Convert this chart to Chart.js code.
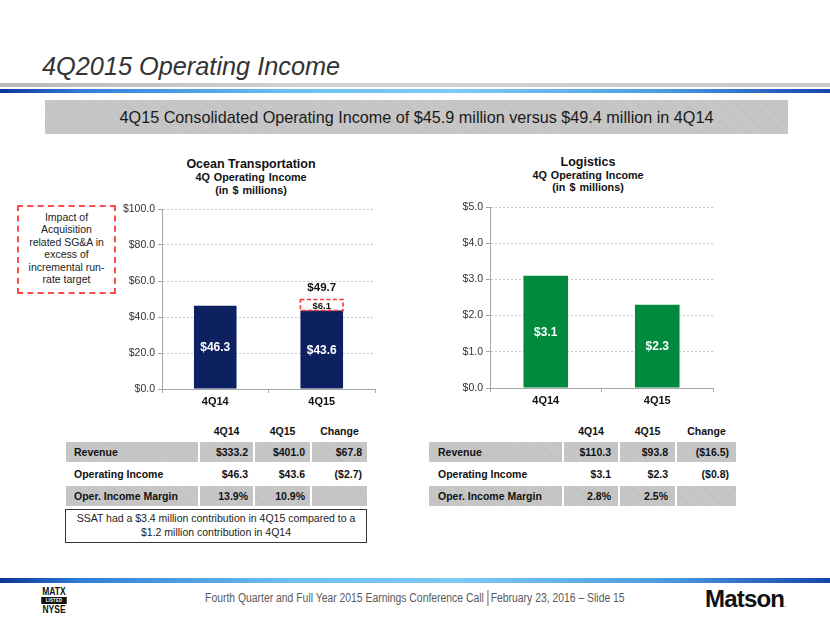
<!DOCTYPE html>
<html>
<head>
<meta charset="utf-8">
<script src="https://cdn.jsdelivr.net/npm/chart.js@4.4.0/dist/chart.umd.min.js"></script>
<style>
  body { margin: 0; background: #fff; font-family: "Liberation Sans", Arial, sans-serif; color: #111; }
  #page { position: relative; width: 830px; height: 623px; overflow: hidden; }
  .abs { position: absolute; }
  #title { left: 42px; top: 52px; font-size: 25.3px; font-style: italic; color: #333; white-space: nowrap; }
  .grayline { left: 0; top: 83px; width: 830px; height: 4px; background: linear-gradient(to right, #b8b8b8, #d4d4d4 40%, #c8c8c8); }
  .blueline { left: 0; width: 830px; height: 4px;
    background: linear-gradient(to right, #0b3596 0%, #2f7fd8 10%, #6cc0f2 35%, #7ccaf5 55%, #4a9be2 80%, #1546ac 100%); }
  .hatch { background: repeating-linear-gradient(45deg, #c9c9c9 0 1px, #c1c1c1 1px 2px); }
  #banner { left: 45px; top: 100px; width: 743px; height: 34px; line-height: 34px; text-align: center; font-size: 16.2px; color: #1a1a1a; }
  .ctitle { text-align: center; font-weight: bold; white-space: nowrap; color: #111; }
  .ctitle .t1 { font-size: 12.5px; height: 14px; line-height: 14px; }
  .ctitle .t2 { font-size: 10.8px; line-height: 13.4px; word-spacing: 1px; }
  #note { left: 17px; top: 205px; width: 95px; height: 81px; border: 2px dashed #ff4a4a; text-align: center;
    font-size: 10.5px; line-height: 12.4px; color: #222; padding-top: 4px; }
  canvas { position: absolute; }
  .cell { position: absolute; font-size: 10.5px; font-weight: bold; line-height: 20px; height: 20px; box-sizing: border-box; white-space: nowrap; color: #111; }
  #ssat { left: 65px; top: 509px; width: 300px; height: 31px; border: 1px solid #333; text-align: center; font-size: 10.5px; line-height: 14px; color: #222; padding-top: 1px; }
  #foot { left: 0; top: 590px; width: 830px; text-align: center; font-family: "Liberation Sans", Arial, sans-serif;
    font-size: 12px; color: #595959; white-space: nowrap; transform: scaleX(0.865); transform-origin: 414px 0; }
  #foot .bar { display: inline-block; width: 0; height: 16px; border-left: 1px solid #555; vertical-align: -4px; margin: 0 3px 0 4px; }
  #nyse { left: 39px; top: 587px; width: 30px; text-align: center; font-family: "Liberation Sans", Arial, sans-serif; font-weight: bold; color: #111; transform: scaleX(0.85); }
  #nyse .l1 { font-size: 10px; line-height: 9px; }
  #nyse .l2 { background: #111; color: #fff; font-size: 5px; line-height: 7px; margin: 1px 0; letter-spacing: 0.3px; }
  #matson { left: 705px; top: 585px; font-size: 24px; font-weight: bold; letter-spacing: -0.8px; color: #111; font-family: "Liberation Sans", Arial, sans-serif; }
  #matson small { font-size: 5px; letter-spacing: 0; }
</style>
</head>
<body>
<div id="page">
  <div id="title" class="abs">4Q2015 Operating Income</div>
  <div class="abs grayline"></div>
  <div class="abs blueline" style="top:89px"></div>
  <div id="banner" class="abs hatch">4Q15 Consolidated Operating Income of $45.9 million versus $49.4 million in 4Q14</div>

  <div class="abs ctitle" style="left:151px; top:157px; width:200px;">
    <div class="t1">Ocean Transportation</div>
    <div class="t2">4Q Operating Income</div>
    <div class="t2">(in $ millions)</div>
  </div>
  <div class="abs ctitle" style="left:488px; top:155px; width:200px;">
    <div class="t1">Logistics</div>
    <div class="t2" style="line-height:12.4px">4Q Operating Income</div>
    <div class="t2" style="line-height:12.4px">(in $ millions)</div>
  </div>

  <div id="note" class="abs">Impact of<br>Acquisition<br>related SG&amp;A in<br>excess of<br>incremental run-<br>rate target</div>

  <canvas id="chart-ocean" width="290" height="215" style="left:100px; top:195px;"></canvas>
  <canvas id="chart-logistics" width="300" height="216" style="left:430px; top:193px;"></canvas>

  <div id="table-ocean"></div>
  <div id="table-logistics"></div>

  <div id="ssat" class="abs">SSAT had a $3.4 million contribution in 4Q15 compared to a<br>$1.2 million contribution in 4Q14</div>

  <div class="abs blueline" style="top:578px; height:5px"></div>
  <div id="nyse" class="abs"><div class="l1">MATX</div><div class="l2">LISTED</div><div class="l1">NYSE</div></div>
  <div id="foot" class="abs">Fourth Quarter and Full Year 2015 Earnings Conference Call<span class="bar"></span>February 23, 2016 – Slide 15</div>
  <div id="matson" class="abs">Matson<small>.</small></div>
</div>

<script>
const quarters = ["4Q14", "4Q15"];
const oceanIncome = [46.3, 43.6];
const oceanAcqImpact = [null, 6.1];
const logisticsIncome = [3.1, 2.3];

const tableHeader = ["4Q14", "4Q15", "Change"];
const tableRowNames = ["Revenue", "Operating Income", "Oper. Income Margin"];
const oceanTable = [
  ["$333.2", "$401.0", "$67.8"],
  ["$46.3", "$43.6", "($2.7)"],
  ["13.9%", "10.9%", ""],
];
const logisticsTable = [
  ["$110.3", "$93.8", "($16.5)"],
  ["$3.1", "$2.3", "($0.8)"],
  ["2.8%", "2.5%", ""],
];

Chart.defaults.font.family = "'Liberation Sans', Arial, sans-serif";
Chart.defaults.devicePixelRatio = 1;

const money = (v) => "$" + Number(v).toFixed(1);

// value labels inside bars, dashed outline for the impact segment, total on top
const barLabels = {
  id: "barLabels",
  afterDatasetsDraw(chart, args, opts) {
    const ctx = chart.ctx;
    chart.data.datasets.forEach((ds, i) => {
      const meta = chart.getDatasetMeta(i);
      meta.data.forEach((bar, j) => {
        const v = ds.data[j];
        if (v == null) return;
        const top = Math.min(bar.y, bar.base);
        const bot = Math.max(bar.y, bar.base);
        ctx.save();
        if (ds.dashColor) {
          ctx.strokeStyle = ds.dashColor;
          ctx.lineWidth = 1.6;
          ctx.setLineDash([4, 2.5]);
          ctx.strokeRect(bar.x - bar.width / 2, top, bar.width, bot - top);
        }
        ctx.fillStyle = ds.labelColor;
        ctx.font = ds.labelFont;
        ctx.textAlign = "center";
        ctx.textBaseline = "middle";
        ctx.fillText(money(v), bar.x, (top + bot) / 2 + 1);
        ctx.restore();
      });
    });
    if (!opts.totals) return;
    const n = chart.data.datasets.length;
    chart.data.labels.forEach((lbl, j) => {
      const parts = chart.data.datasets.map((d) => d.data[j]).filter((v) => v != null);
      if (parts.length < 2) return;
      const sum = parts.reduce((s, x) => s + x, 0);
      const topBar = chart.getDatasetMeta(n - 1).data[j];
      ctx.save();
      ctx.fillStyle = "#111";
      ctx.font = "bold 11.5px 'Liberation Sans', Arial";
      ctx.textAlign = "center";
      ctx.textBaseline = "middle";
      ctx.fillText(money(sum), topBar.x, topBar.y - 11.5);
      ctx.restore();
    });
  },
};

function chartOpts(max, step, axisWidth, padRight, stacked, totals) {
  return {
    responsive: false,
    animation: false,
    layout: { padding: { top: 14, right: padRight, left: 0, bottom: 0 } },
    scales: {
      x: {
        stacked,
        offset: true,
        grid: { display: true, drawOnChartArea: false, tickLength: 4, color: "#a6a6a6" },
        border: { color: "#a6a6a6" },
        ticks: { color: "#111", font: { size: 11, weight: "bold" }, padding: 2 },
        afterFit: (s) => { s.height = 21; },
      },
      y: {
        stacked,
        min: 0,
        max,
        ticks: { stepSize: step, color: "#333", font: { size: 10.5 }, padding: 3, callback: (v) => money(v) },
        grid: { color: "#c4c4c4", tickColor: "#a6a6a6", tickLength: 4 },
        border: { color: "#a6a6a6", dash: [2, 2] },
        afterFit: (s) => { s.width = axisWidth; },
      },
    },
    plugins: {
      legend: { display: false },
      tooltip: { enabled: false },
      barLabels: { totals },
    },
  };
}

new Chart(document.getElementById("chart-ocean"), {
  type: "bar",
  data: {
    labels: quarters,
    datasets: [
      {
        data: oceanIncome,
        backgroundColor: "#0d2060",
        categoryPercentage: 1,
        barPercentage: 0.4,
        labelColor: "#ffffff",
        labelFont: "bold 12px 'Liberation Sans', Arial",
      },
      {
        data: oceanAcqImpact,
        backgroundColor: "#ffffff",
        categoryPercentage: 1,
        barPercentage: 0.4,
        dashColor: "#ff3030",
        labelColor: "#111",
        labelFont: "bold 9.5px 'Liberation Sans', Arial",
      },
    ],
  },
  options: chartOpts(100, 20, 62, 15, true, true),
  plugins: [barLabels],
});

new Chart(document.getElementById("chart-logistics"), {
  type: "bar",
  data: {
    labels: quarters,
    datasets: [
      {
        data: logisticsIncome,
        backgroundColor: "#008a3e",
        categoryPercentage: 1,
        barPercentage: 0.4,
        labelColor: "#ffffff",
        labelFont: "bold 12px 'Liberation Sans', Arial",
      },
    ],
  },
  options: chartOpts(5, 1, 60, 17, false, false),
  plugins: [barLabels],
});

function buildTable(id, edges, rows, padL, padR) {
  const el = document.getElementById(id);
  let html = "";
  tableHeader.forEach((h, c) => {
    html += `<div class="cell" style="left:${edges[c + 1]}px; top:421px; width:${edges[c + 2] - edges[c + 1]}px; text-align:center">${h}</div>`;
  });
  rows.forEach((vals, r) => {
    const top = 442 + r * 22;
    const cls = r % 2 === 0 ? "cell hatch" : "cell";
    [tableRowNames[r]].concat(vals).forEach((v, c) => {
      const left = edges[c] + (c > 0 ? 1 : 0);
      const w = edges[c + 1] - left - 1;
      const align = c === 0 ? `text-align:left; padding-left:${padL}px` : `text-align:right; padding-right:${padR}px`;
      html += `<div class="${cls}" style="left:${left}px; top:${top}px; width:${w}px; ${align}">${v}</div>`;
    });
  });
  el.innerHTML = html;
}

buildTable("table-ocean", [66, 199, 254, 311, 368], oceanTable, 8, 5);
buildTable("table-logistics", [429, 563, 619, 676, 737], logisticsTable, 9, 7);
</script>
</body>
</html>
